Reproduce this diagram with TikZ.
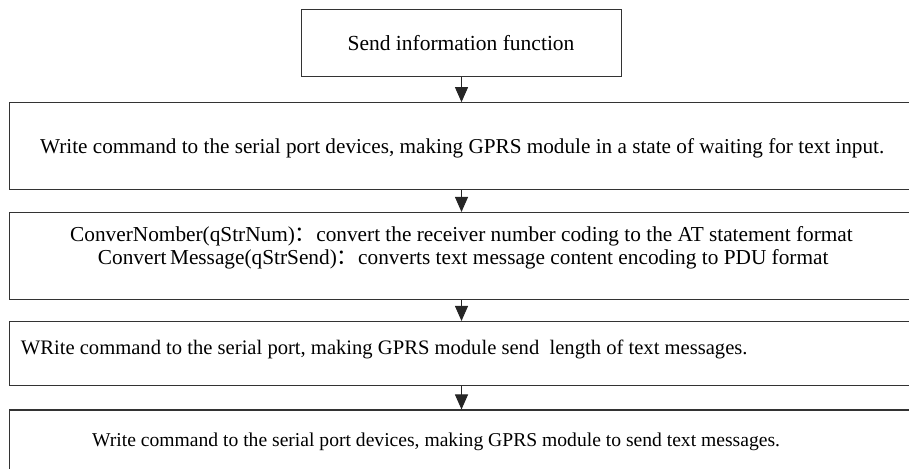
\documentclass[tikz,border=0pt]{standalone}
\usepackage{fontspec}
\setmainfont{Liberation Serif}
\newfontfamily\cjkfont{Noto Sans CJK SC}
\usetikzlibrary{arrows.meta}
\begin{document}
\begin{tikzpicture}[x=1pt,y=-1pt,
  flowbox/.style={draw=black!80, line width=1.1pt, inner sep=0pt},
  flowtext/.style={inner sep=0pt, font=\fontsize{#1}{24}\selectfont},
  flowtext/.default=21.5,
  flowarrow/.style={draw=black!85, line width=1pt, -{Triangle[width=13pt,length=15pt]}}]
\useasboundingbox (0,0) rectangle (909,468);
\clip (0,0) rectangle (909,468);

% process boxes (the wide ones run past the right margin)
\node[flowbox, minimum width=320pt, minimum height=66.7pt] (start) at (461.5,43.3) {};
\node[flowbox, minimum width=925.7pt, minimum height=86.6pt] (wait) at (472.2,146) {};
\node[flowbox, minimum width=925.7pt, minimum height=86.8pt] (conv) at (472.2,255.9) {};
\node[flowbox, minimum width=925.7pt, minimum height=63.8pt] (len) at (472.2,353.4) {};
\node[flowbox, minimum width=925.7pt, minimum height=86.6pt] (send) at (472.2,453.3) {};

% texts
\node[flowtext, anchor=base] (t1) at (461,51) {Send information function};
\node[flowtext=21.2, anchor=base west] (t2) at (40,153) {Write command to the serial port devices, making GPRS module in a state of waiting for text input.};
\node[flowtext=21.3, anchor=base west] (t3a) at (70,241) {ConverNomber(qStrNum){\cjkfont ：}convert the receiver number coding to the AT statement format};
\node[flowtext=21.3, anchor=base west] (t3b) at (97.7,264) {Convert\,Message(qStrSend){\cjkfont ：}converts text message content encoding to PDU format};
\node[flowtext=20.6, anchor=base west] (t4) at (20.7,354) {WRite command to the serial port, making GPRS module send\ \ length of text messages.};
\node[flowtext=19.6, anchor=base west] (t5) at (92,446) {Write command to the serial port devices, making GPRS module to send text messages.};

% connectors
\draw[flowarrow] (start.south) -- (start.south |- wait.north);
\draw[flowarrow] (wait.south -| start.south) -- (conv.north -| start.south);
\draw[flowarrow] (conv.south -| start.south) -- (len.north -| start.south);
\draw[flowarrow] (len.south -| start.south) -- (send.north -| start.south);
\end{tikzpicture}
\end{document}
